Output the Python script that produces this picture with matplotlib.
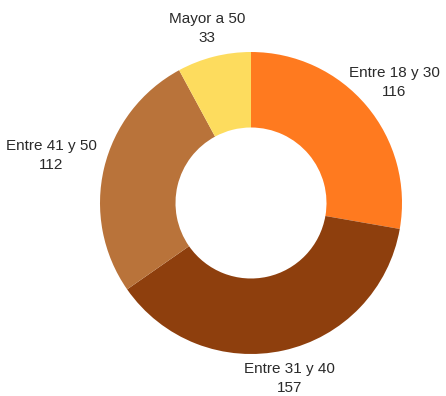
import numpy as np
import matplotlib
matplotlib.use("Agg")
import matplotlib.pyplot as plt

# Age groups and counts
groups = ["Entre 18 y 30", "Entre 31 y 40", "Entre 41 y 50", "Mayor a 50"]
counts = [116, 157, 112, 33]
colors = ["#FF7A1F", "#8E3F0D", "#B9733A", "#FDDC5E"]

plt.rcParams['font.family'] = ['Liberation Sans', 'DejaVu Sans']

fig = plt.figure(figsize=(4.46, 3.96), dpi=100)
ax = fig.add_axes([0, 0, 1, 1])

wedges, _ = ax.pie(counts, colors=colors, startangle=90, counterclock=False,
                   radius=1.0, wedgeprops=dict(width=0.5, linewidth=0))

# label distance from centre (in radii) for each wedge
label_dist = [1.24, 1.19, 1.36, 1.19]
for w, name, n, d in zip(wedges, groups, counts, label_dist):
    ang = np.deg2rad((w.theta1 + w.theta2) / 2)
    ax.text(d * np.cos(ang), d * np.sin(ang), f"{name}\n{n}",
            ha='center', va='center', fontsize=11, color='#2a2a2a',
            linespacing=1.45)

ax.set_xlim(-251 / 151, 195 / 151)
ax.set_ylim(-193 / 151, 203 / 151)
ax.set_aspect('auto')
ax.axis('off')

fig.savefig("out.png", dpi=100)
